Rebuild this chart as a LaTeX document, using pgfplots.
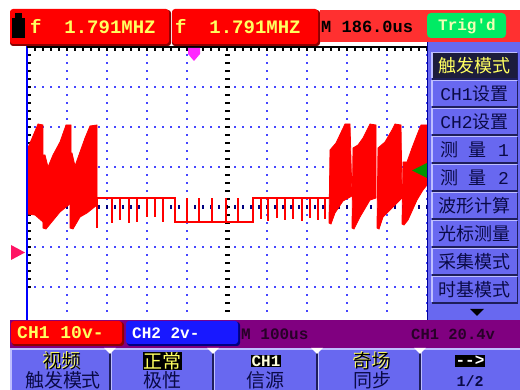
\documentclass[border=0pt]{standalone}
\usepackage{pgfplots}
\pgfplotsset{compat=1.18}
\usepackage{fontspec}
\setmainfont{Liberation Sans}
\newfontfamily\cjk{Noto Sans CJK SC}
\newfontfamily\mono{Liberation Mono}

\definecolor{scred}{RGB}{255,0,0}
\definecolor{lbox}{RGB}{255,48,48}
\definecolor{trig}{RGB}{0,235,100}
\definecolor{panel}{RGB}{104,104,240}
\definecolor{panellt}{RGB}{190,190,255}
\definecolor{paneldk}{RGB}{30,30,90}
\definecolor{navy}{RGB}{10,10,70}
\definecolor{selbg}{RGB}{28,28,60}
\definecolor{purp}{RGB}{128,0,128}
\definecolor{gridblue}{RGB}{70,70,255}
\definecolor{txtyel}{RGB}{255,255,96}
\definecolor{marker}{RGB}{255,20,100}
\definecolor{mag}{RGB}{255,40,255}
\definecolor{trgreen}{RGB}{0,150,0}
\definecolor{chblue}{RGB}{24,24,255}
\definecolor{darktxt}{RGB}{40,0,40}

% text with a yellow fringe, as on the scope's soft keys
\newcommand\fr[3]{%
  \node[text=txtyel] at (#1-1,#2-1) {#3};
  \node[text=black] at (#1,#2) {#3};}

\begin{document}
\begin{tikzpicture}
\useasboundingbox (0,0) rectangle (520pt,390pt);
\fill[white] (0,0) rectangle (520pt,390pt);

\begin{axis}[
    at={(27pt,72pt)}, anchor=south west,
    scale only axis, width=400pt, height=271pt,
    xmin=0, xmax=1000, ymin=-27.75, ymax=40,
    xtick={0,100,...,1000}, ytick={-20,-10,...,40},
    minor x tick num=4, minor y tick num=4,
    xtick pos=right, ytick pos=left, tick align=inside,
    major tick length=4.5pt, minor tick length=4.5pt,
    tick style={black, line width=1.2pt},
    xticklabels={}, yticklabels={},
    xticklabel=\empty, yticklabel=\empty,
    axis line style={draw=none},
    grid=major,
    x grid style={gridblue, line width=1.4pt, dash pattern=on 1.4pt off 6.6pt, dash phase=1.7pt},
    y grid style={gridblue, line width=1.4pt, dash pattern=on 1.4pt off 6.6pt, dash phase=0.7pt},
  ]
  % centre lines
  \draw[blue!50!black, line width=4pt, dash pattern=on 1.6pt off 6.4pt, dash phase=0.8pt]
    (axis cs:0,0) -- (axis cs:1000,0);
  \draw[black, line width=5pt, dash pattern=on 1.4pt off 6.6pt, dash phase=0.7pt]
    (axis cs:500,40) -- (axis cs:500,-27.75);

  % CH1 video signal: chroma bursts
  \addplot[fill=scred, draw=scred, line width=0.8pt] coordinates {
    (0,-1.75)(0,14.25)(15,17.75)(27.5,20.75)(40,20.5)(40,-3.75)(20,-2)} -- cycle;
  \addplot[fill=scred, draw=scred, line width=0.8pt] coordinates {
    (40,-5.25)(40,13)(45,13)(52.5,10)(65,13)(82.5,16.25)(97.5,20.5)(110,20.5)(110,1)(82.5,-1.25)(47.5,-5.5)} -- cycle;
  \addplot[fill=scred, draw=scred, line width=0.8pt] coordinates {
    (107.5,-5.25)(107.5,13.5)(112.5,13.5)(120,10.25)(132.5,13.75)(145,17.25)(157.5,20.25)(175,20.5)(175,0.5)(150,-1.5)(132.5,-2.5)(115,-5.5)} -- cycle;
  \addplot[fill=scred, draw=scred, line width=0.8pt] coordinates {
    (755,-4)(757.5,14.25)(772.5,16)(795,20.75)(807.5,20.75)(812.5,2.75)(790,1.5)(770,-1.5)(760,-4.25)} -- cycle;
  \addplot[fill=scred, draw=scred, line width=0.8pt] coordinates {
    (812.5,-5.25)(815,14.75)(827.5,15.5)(840,17.25)(857.5,20.75)(872.5,20.5)(872.5,2.25)(857.5,1.75)(832.5,-2.5)(817.5,-5.5)} -- cycle;
  \addplot[fill=scred, draw=scred, line width=0.8pt] coordinates {
    (875,-5.25)(877.5,14.75)(895,16.25)(912.5,19.25)(920,20.75)(935,20.5)(937.5,2.25)(915,0)(890,-2.5)(880,-5.5)} -- cycle;
  \addplot[fill=scred, draw=scred, line width=0.8pt] coordinates {
    (937.5,-4.25)(940,11.25)(950,11.25)(962.5,14.75)(975,18)(985,20.5)(1000,20.5)(1000,5.5)(990,4.25)(975,1.75)(952.5,-3.25)(942.5,-4.5)} -- cycle;

  % blanking levels
  \addplot[scred, line width=2.6pt] coordinates {
    (175,-5.25)(175,2.25)(370,2.25)(370,-3.75)(565,-3.75)(565,2.25)(757.5,2.25)};
  % sync spikes and pulses
  \addplot[scred, line width=1.4pt, unbounded coords=jump] coordinates {
    (212.5,2.25)(212.5,-4)(212.5,nan)
    (232.5,2.25)(232.5,-3.25)(232.5,nan)
    (255,2.25)(255,-4)(255,nan)
    (275,2.25)(275,-3.75)(275,nan)
    (300,2.25)(300,-2.5)(300,nan)
    (320,2.25)(320,-2.5)(320,nan)
    (340,2.25)(340,-3.75)(340,nan)
    (400,-3.75)(400,2.25)(400,nan)
    (430,-3.75)(430,2.25)(430,nan)
    (462.5,-3.75)(462.5,2.25)(462.5,nan)
    (497.5,-3.75)(497.5,2.25)(497.5,nan)
    (527.5,-3.75)(527.5,2.25)(527.5,nan)
    (585,2.25)(585,-3)(585,nan)
    (602.5,2.25)(602.5,-3.5)(602.5,nan)
    (625,2.25)(625,-2.75)(625,nan)
    (645,2.25)(645,-3.25)(645,nan)
    (665,2.25)(665,-3)(665,nan)
    (687.5,2.25)(687.5,-3.5)(687.5,nan)
    (707.5,2.25)(707.5,-2.75)(707.5,nan)
    (727.5,2.25)(727.5,-3.25)(727.5,nan)
    (745,2.25)(745,-3)};
\end{axis}

\begin{scope}[x=1pt, y=-1pt, shift={(0pt,390pt)}]
  % screen frame
  \draw[blue, line width=2pt] (27,46) -- (27,320);
  \draw[black, line width=2pt] (27,47) -- (427,47);
  % markers
  \fill[marker] (11,245) -- (25,252.5) -- (11,260) -- cycle;
  \fill[mag] (188,48) -- (200,48) -- (200,54) -- (194,61) -- (188,54) -- cycle;
  \fill[trgreen] (412,170.5) -- (427,163) -- (427,178) -- cycle;

  % top bar
  \fill[red!55!black, rounded corners=3pt] (10,10) rectangle (171,46);
  \fill[scred, rounded corners=3pt] (10,9) rectangle (169,44);
  \fill[red!55!black, rounded corners=3pt] (172,10) rectangle (320,46);
  \fill[scred, rounded corners=3pt] (172,9) rectangle (318,44);
  \fill[lbox] (320,10) rectangle (520,42);
  \fill[black] (12,18) rectangle (25,38);
  \fill[black] (15,13) rectangle (22,18);
  \node[anchor=west, inner sep=0, text=txtyel, font=\mono\bfseries\fontsize{19}{19}\selectfont]
    at (30,27) {f~~1.791MHZ};
  \node[anchor=west, inner sep=0, text=txtyel, font=\mono\bfseries\fontsize{19}{19}\selectfont]
    at (175,27) {f~~1.791MHZ};
  \node[anchor=west, inner sep=0, text=black, font=\mono\bfseries\fontsize{17}{17}\selectfont]
    at (321,27) {M 186.0us};
  \fill[trig, rounded corners=4pt] (427,13) rectangle (506,38);
  \node[inner sep=0, text={rgb,255:red,240;green,255;blue,180}, font=\mono\bfseries\fontsize{16}{16}\selectfont]
    at (467,26) {Trig'd};

  % right menu
  \fill[panel] (427,42) rectangle (520,320);
  \draw[blue!60!black, line width=1pt] (427.5,42) -- (427.5,320);
  \foreach \yy/\lab in {81/{{\mono CH1}设置}, 109/{{\mono CH2}设置},
      137/{测\hspace{10pt}量\hspace{12pt}{\mono 1}}, 165/{测\hspace{10pt}量\hspace{12pt}{\mono 2}},
      193/{波形计算}, 221/{光标测量}, 249/{采集模式}, 277/{时基模式}} {
    \fill[paneldk] (432,\yy) rectangle (518,\yy+27);
    \fill[panellt] (431,\yy-1) rectangle (516.5,\yy+25.5);
    \fill[panel] (432.5,\yy+0.5) rectangle (516.5,\yy+25.5);
    \node[text=navy, font=\cjk\fontsize{18}{18}\selectfont] at (474.5,\yy+13) {\lab};
  }
  \fill[paneldk] (432,53) rectangle (518,80);
  \fill[panellt] (431,52) rectangle (516.5,78.5);
  \fill[selbg] (432.5,53.5) rectangle (516.5,78.5);
  \node[text=txtyel, font=\cjk\fontsize{18}{18}\selectfont] at (474.5,66) {触发模式};
  \fill[black] (470,309) -- (484,309) -- (477,316) -- cycle;

  % channel strip
  \fill[purp] (10,320) rectangle (520,348);
  \fill[red!55!black, rounded corners=3pt] (12,322) rectangle (124,346);
  \fill[scred, rounded corners=3pt] (11,321) rectangle (122,344);
  \fill[blue!50!black, rounded corners=3pt] (127,322) rectangle (240,346);
  \fill[chblue, rounded corners=3pt] (126,321) rectangle (238,344);
  \node[anchor=west, inner sep=0, text=txtyel, font=\mono\bfseries\fontsize{18}{18}\selectfont]
    at (17,333) {CH1 10v-};
  \node[anchor=west, inner sep=0, text=white, font=\mono\bfseries\fontsize{16}{16}\selectfont]
    at (132,333) {CH2 2v-};
  \node[anchor=west, inner sep=0, text=darktxt, font=\mono\bfseries\fontsize{16}{16}\selectfont]
    at (241,334) {M 100us};
  \node[anchor=west, inner sep=0, text=darktxt, font=\mono\bfseries\fontsize{15.5}{15.5}\selectfont]
    at (411,334) {CH1 20.4v};

  % soft keys
  \fill[panel] (10,348) rectangle (520,390);
  \draw[panellt, line width=1.5pt] (10,349) -- (520,349);
  \draw[panellt, line width=1.5pt] (11,349) -- (11,390);
  \foreach \xx in {110,213,317,420} {
    \draw[paneldk, line width=2pt] (\xx,350) -- (\xx,390);
    \draw[panellt, line width=1pt] (\xx+1.5,350) -- (\xx+1.5,390);
    \fill[white] (\xx-6,348) -- (\xx+6,348) -- (\xx,354) -- cycle;
  }
  \begin{scope}[font=\cjk\fontsize{19}{19}\selectfont]
    \fr{62}{361}{视频}
    \fr{372}{361}{奇场}
    \node[fill=black, inner sep=0.5pt, text=txtyel] at (162,361) {正常};
    \node[text=navy] at (63,380) {触发模式};
    \node[text=navy] at (162,380) {极性};
    \node[text=navy] at (265,380) {信源};
    \node[text=navy] at (372,380) {同步};
  \end{scope}
  \node[fill=black, inner sep=1pt, text={rgb,255:red,255;green,255;blue,220},
    font=\mono\bfseries\fontsize{16}{16}\selectfont] at (266,361) {CH1};
  \node[fill=black, inner sep=1pt, text=white,
    font=\mono\bfseries\fontsize{16}{16}\selectfont] at (470,361) {-->};
  \node[text=navy, font=\mono\bfseries\fontsize{15}{15}\selectfont] at (470,381) {1/2};
\end{scope}
\end{tikzpicture}
\end{document}
